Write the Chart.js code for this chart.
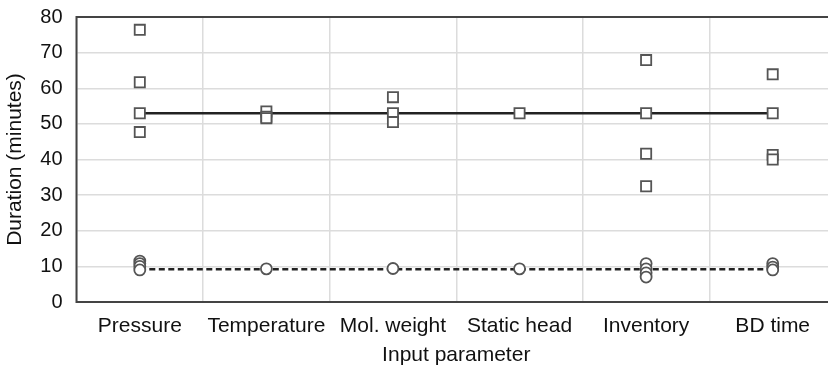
<!DOCTYPE html>
<html>
<head>
<meta charset="utf-8">
<script src="https://cdn.jsdelivr.net/npm/chart.js@4.4.1/dist/chart.umd.min.js"></script>
<style>
  html, body { margin: 0; padding: 0; background: #fff; overflow: hidden; }
  #wrap { width: 828px; height: 372px; overflow: hidden; }
  #c { display: block; }
</style>
</head>
<body>
<!-- the plot runs slightly past the right edge of the view -->
<div id="wrap"><canvas id="c" width="836" height="372"></canvas></div>
<script>
// Input parameters on the x axis
const categories = ['Pressure', 'Temperature', 'Mol. weight', 'Static head', 'Inventory', 'BD time'];

// Square markers: durations per input parameter (minutes)
const squareValues = [
  [76.4, 61.7, 53.0, 47.7],
  [53.5, 52.0, 51.6],
  [57.5, 53.0, 50.5],
  [53.0],
  [67.9, 53.0, 41.6, 32.5],
  [63.9, 53.0, 41.3, 40.0]
];

// Circle markers: durations per input parameter (minutes)
const circleValues = [
  [11.5, 10.8, 10.0, 9.0],
  [9.3],
  [9.4],
  [9.3],
  [10.8, 9.3, 8.2, 7.0],
  [10.8, 9.8, 9.0]
];

// Base-case reference durations (minutes)
const solidBase = 53.0;
const dashedBase = 9.2;

// Y axis ticks
const yTicks = [0, 10, 20, 30, 40, 50, 60, 70, 80];

const FONT = '"Liberation Sans", Arial, sans-serif';

function toPoints(groups) {
  const pts = [];
  groups.forEach((vals, i) => vals.forEach(v => pts.push({ x: categories[i], y: v })));
  return pts;
}

// Frame around the plotting area
const plotBox = {
  id: 'plotBox',
  afterDraw(chart) {
    const { ctx, chartArea: a } = chart;
    ctx.save();
    ctx.strokeStyle = '#444';
    ctx.lineWidth = 2;
    ctx.strokeRect(a.left, a.top, a.right - a.left, a.bottom - a.top);
    ctx.restore();
  }
};

new Chart(document.getElementById('c'), {
  type: 'line',
  data: {
    labels: categories,
    datasets: [
      {
        label: 'Squares',
        data: toPoints(squareValues),
        showLine: false,
        pointStyle: 'rect',
        pointRadius: 7.2,
        pointBorderWidth: 1.8,
        pointBorderColor: '#555',
        pointBackgroundColor: '#fff',
        order: 1
      },
      {
        label: 'Circles',
        data: toPoints(circleValues),
        showLine: false,
        pointStyle: 'circle',
        pointRadius: 5.5,
        pointBorderWidth: 1.8,
        pointBorderColor: '#555',
        pointBackgroundColor: '#fff',
        order: 2
      },
      {
        label: 'Solid base',
        data: categories.map(() => solidBase),
        borderColor: '#222',
        borderWidth: 2.6,
        pointRadius: 0,
        fill: false,
        order: 3
      },
      {
        label: 'Dashed base',
        data: categories.map(() => dashedBase),
        borderColor: '#222',
        borderWidth: 2.3,
        borderDash: [6, 3.5],
        pointRadius: 0,
        fill: false,
        order: 4
      }
    ]
  },
  options: {
    responsive: false,
    animation: false,
    layout: { autoPadding: false, padding: { top: 17, right: 0, left: 0, bottom: 0 } },
    plugins: { legend: { display: false }, tooltip: { enabled: false } },
    scales: {
      x: {
        type: 'category',
        offset: true,
        grid: { offset: true, color: '#dcdcdc', lineWidth: 1.5, drawTicks: false },
        border: { display: false },
        ticks: { color: '#111', font: { family: FONT, size: 21 }, padding: 12, maxRotation: 0, autoSkip: false },
        title: { display: true, text: 'Input parameter', color: '#111', font: { family: FONT, size: 21 }, padding: { top: 4, bottom: 4 } },
        afterFit(scale) { scale.height = 70; scale.paddingLeft = 0; scale.paddingRight = 0; }
      },
      y: {
        min: 0,
        max: 80,
        afterBuildTicks(scale) { scale.ticks = yTicks.map(v => ({ value: v })); },
        grid: { color: '#dcdcdc', lineWidth: 1.5, drawTicks: false },
        border: { display: false },
        ticks: { color: '#111', font: { family: FONT, size: 20 }, padding: 14 },
        title: { display: true, text: 'Duration (minutes)', color: '#111', font: { family: FONT, size: 21 }, padding: { top: 3, bottom: 4 } },
        afterFit(scale) { scale.width = 76.5; scale.paddingTop = 0; scale.paddingBottom = 0; }
      }
    }
  },
  plugins: [plotBox]
});
</script>
</body>
</html>
